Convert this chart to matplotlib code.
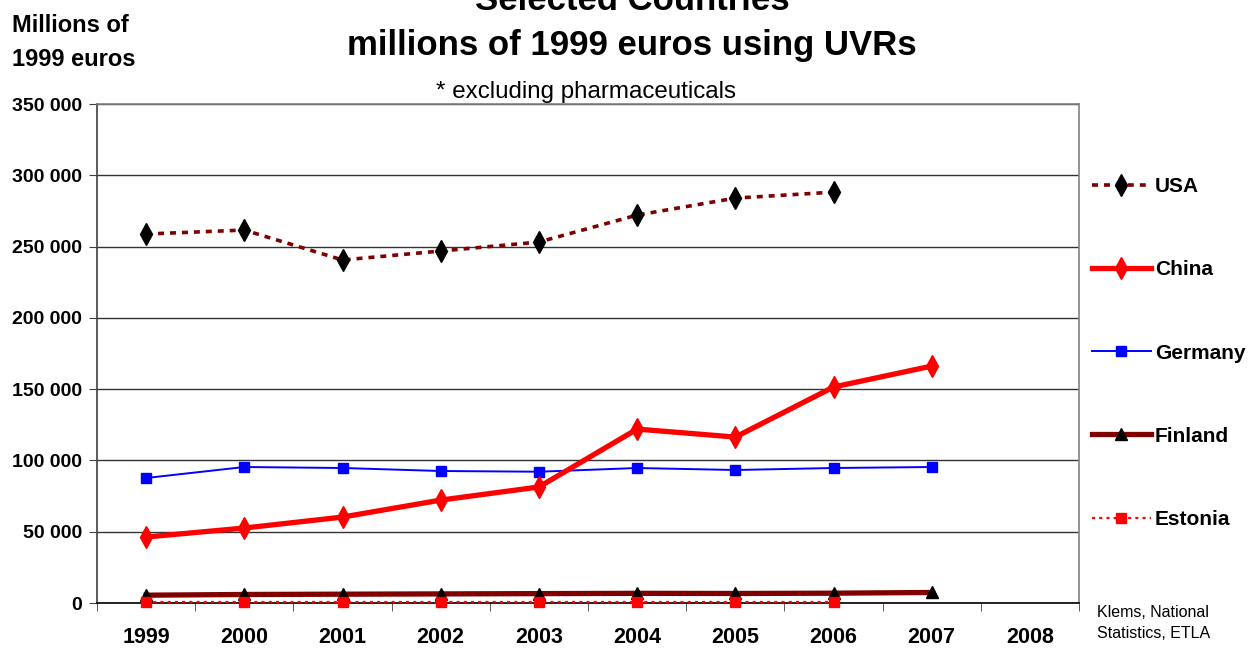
import matplotlib
matplotlib.use("Agg")
import matplotlib.pyplot as plt
import numpy as np

plt.rcParams["font.family"] = ["Liberation Sans", "DejaVu Sans"]
plt.rcParams["lines.scale_dashes"] = False

YEARS = ["1999", "2000", "2001", "2002", "2003", "2004", "2005", "2006", "2007", "2008"]

USA = [258800, 261600, 240600, 246900, 253200, 272100, 284000, 288200]
CHINA = [46300, 52600, 60300, 72200, 81400, 122000, 116400, 151500, 166200]
GERMANY = [87700, 95400, 94700, 92600, 92100, 94700, 93300, 94700, 95400]
FINLAND = [5500, 6000, 6200, 6400, 6600, 6800, 6700, 6900, 7400]
ESTONIA = [500, 500, 500, 500, 500, 500, 500, 500]

YTICKS = [0, 50000, 100000, 150000, 200000, 250000, 300000, 350000]
YLABELS = ["0", "50 000", "100 000", "150 000", "200 000", "250 000", "300 000", "350 000"]

DARKRED = "#800000"
RED = "#FF0000"
BLUE = "#0000FF"

fig = plt.figure(figsize=(12.49, 6.48), dpi=100)
ax = fig.add_axes([0.0777, 0.0694, 0.7862, 0.7701])

x = np.arange(len(YEARS))

ax.plot(x[:len(USA)], USA, color=DARKRED, lw=2.6, ls=(0, (4.3, 4.3)),
        marker="d", ms=11, mfc="black", mec="black", label="USA", zorder=5)
ax.plot(x[:len(CHINA)], CHINA, color=RED, lw=3.8, marker="d", ms=11,
        mfc=RED, mec=RED, label="China", zorder=4)
ax.plot(x[:len(GERMANY)], GERMANY, color=BLUE, lw=1.4, marker="s", ms=7,
        mfc=BLUE, mec=BLUE, label="Germany", zorder=3)
ax.plot(x[:len(FINLAND)], FINLAND, color=DARKRED, lw=3.8, marker="^", ms=9,
        mfc="black", mec="black", label="Finland", zorder=3, clip_on=False)
ax.plot(x[:len(ESTONIA)], ESTONIA, color=RED, lw=1.6, ls=(0, (2.2, 3.0)),
        marker="s", ms=7, mfc=RED, mec=RED, label="Estonia", zorder=4, clip_on=False)

ax.set_xlim(-0.5, len(YEARS) - 0.5)
ax.set_ylim(0, 350000)
ax.set_yticks(YTICKS)
ax.set_yticklabels(YLABELS, fontsize=14, fontweight="bold")
ax.set_xticks(x)
ax.set_xticklabels(YEARS, fontsize=15.5, fontweight="bold")
ax.set_xticks(np.arange(-0.5, len(YEARS)), minor=True)
ax.tick_params(axis="x", which="major", length=0, pad=17)
ax.tick_params(axis="x", which="minor", length=6, color="#404040", direction="out")
ax.tick_params(axis="y", length=6, color="#404040", direction="out", pad=5)

ax.yaxis.grid(True, color="#333333", lw=1.0)
ax.set_axisbelow(True)
ax.spines["left"].set_color("#404040")
ax.spines["bottom"].set_color("black")
ax.spines["top"].set_color("#808080")
ax.spines["right"].set_color("#808080")
for s in ax.spines.values():
    s.set_linewidth(1.2)

leg = ax.legend(loc="upper left", bbox_to_anchor=(1.005, 0.87), frameon=False,
                prop={"size": 15, "weight": "bold"}, labelspacing=3.08,
                handlelength=2.8, handletextpad=0.2, borderaxespad=0)

fig.text(0.506, 1.0, "Selected Countries", ha="center", va="center",
         fontsize=25, fontweight="bold")
fig.text(0.506, 0.930, "millions of 1999 euros using UVRs", ha="center", va="center",
         fontsize=25, fontweight="bold")
fig.text(0.469, 0.858, "* excluding pharmaceuticals", ha="center", va="center",
         fontsize=17.4)
fig.text(0.010, 0.934, "Millions of\n1999 euros", ha="left", va="center",
         fontsize=17, fontweight="bold", linespacing=1.6)
fig.text(0.878, 0.039, "Klems, National\nStatistics, ETLA", ha="left", va="center",
         fontsize=11.5, linespacing=1.5)

fig.savefig("out.png", dpi=100)
